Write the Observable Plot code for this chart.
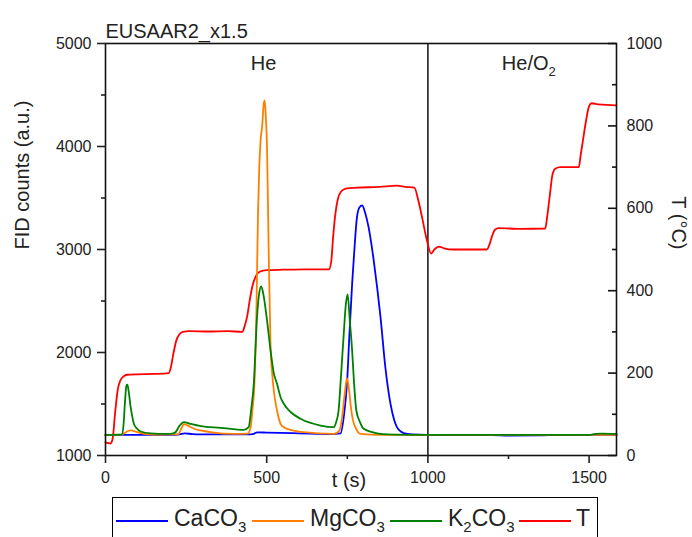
<!DOCTYPE html>
<html><head><meta charset="utf-8">
<script src="https://cdn.jsdelivr.net/npm/d3@7"></script>
<script src="https://cdn.jsdelivr.net/npm/@observablehq/plot@0.6"></script>
<style>
body{margin:0;background:#fff;font-family:"Liberation Sans",Arial,sans-serif;}
#wrap{position:relative;width:692px;height:537px;overflow:hidden;background:#fff;}
#legend{position:absolute;left:112px;top:497px;width:486px;height:60px;border:1.5px solid #000;box-sizing:border-box;font-size:23px;color:#222;}
#legend .ln{position:absolute;top:22px;height:2px;}
#legend .lb{position:absolute;top:7px;line-height:26px;white-space:nowrap;}
#legend sub{font-size:15px;vertical-align:-6px;line-height:0;}
</style>
</head><body>
<div id="wrap"><div id="chart"></div><div id="legend"></div></div>
<script>
// ---- data ----
const title = "EUSAAR2_x1.5";
const xTicks = [0, 500, 1000, 1500];
const xMinor = [250, 750, 1250];
const yTicks = [1000, 2000, 3000, 4000, 5000];
const yMinor = [1500, 2500, 3500, 4500];
const tempTicks = [0, 200, 400, 600, 800, 1000];
const tempMinor = [100, 300, 500, 700, 900];
const gasLabels = ["He", "He/O2"];
const gasLabelT = [490, 1313];
const switchT = [1000];

// Temperature T (°C)
const tT = [0, 8, 15, 22, 30, 38, 46, 56, 67, 100, 150, 196, 203, 210, 220, 230, 240, 260, 320, 380, 424, 432, 440, 448, 456, 466, 478, 500, 550, 620, 693, 700, 706, 712, 720, 730, 745, 780, 850, 904, 930, 958, 970, 982, 997, 1010, 1020, 1034, 1050, 1080, 1183, 1190, 1198, 1208, 1220, 1287, 1364, 1370, 1378, 1386, 1395, 1410, 1468, 1474, 1480, 1490, 1500, 1508, 1530, 1585];
const vT = [32, 30, 29, 40, 105, 160, 182, 192, 196, 197, 198, 200, 215, 245, 280, 295, 300, 302, 301, 302, 300, 315, 340, 380, 412, 435, 446, 450, 451, 452, 452, 470, 530, 580, 620, 640, 648, 650, 652, 655, 652, 650, 620, 578, 522, 490, 500, 507, 503, 500, 500, 510, 530, 548, 552, 550, 551, 580, 630, 680, 696, 700, 700, 730, 760, 810, 848, 855, 852, 850];

// CaCO3 FID counts
const tCa = [0, 200, 230, 245, 270, 300, 440, 460, 470, 500, 600, 700, 729, 740, 749, 757, 765, 772, 780, 788, 796, 806, 816, 832, 843, 853, 868, 884, 895, 904, 915, 925, 950, 1000, 1200, 1250, 1350, 1400, 1585];
const vCa = [1200, 1200, 1205, 1215, 1208, 1205, 1205, 1210, 1225, 1222, 1215, 1208, 1215, 1400, 1696, 2200, 2667, 3000, 3314, 3410, 3427, 3350, 3217, 2893, 2620, 2343, 1857, 1502, 1350, 1275, 1235, 1217, 1205, 1200, 1198, 1193, 1195, 1200, 1200];

// MgCO3 FID counts
const tMg = [0, 50, 60, 70, 80, 95, 120, 150, 225, 235, 243, 255, 275, 295, 330, 398, 440, 450, 456, 462, 466, 468, 473, 477, 481, 486, 491, 494, 497, 501, 506, 512, 517, 522, 532, 543, 553, 580, 615, 708, 725, 734, 742, 749, 755, 760, 767, 775, 791, 850, 1585];
const vMg = [1200, 1202, 1220, 1238, 1243, 1230, 1210, 1203, 1205, 1260, 1305, 1290, 1260, 1243, 1225, 1210, 1212, 1270, 1450, 1700, 2100, 2376, 3346, 3800, 4058, 4200, 4420, 4447, 4300, 3993, 3022, 2051, 1800, 1631, 1437, 1308, 1275, 1245, 1227, 1210, 1240, 1372, 1600, 1751, 1650, 1502, 1350, 1275, 1210, 1200, 1200];

// K2CO3 FID counts
const tK = [0, 50, 56, 60, 65, 68, 72, 78, 83, 88, 98, 109, 140, 191, 210, 217, 230, 243, 260, 295, 357, 429, 444, 452, 460, 470, 476, 483, 490, 501, 512, 522, 532, 543, 553, 575, 605, 667, 708, 716, 723, 731, 739, 745, 751, 758, 765, 771, 778, 790, 801, 830, 853, 900, 1000, 1500, 1520, 1540, 1585];
const vK = [1200, 1202, 1300, 1500, 1680, 1689, 1620, 1469, 1380, 1308, 1260, 1233, 1215, 1210, 1215, 1226, 1290, 1324, 1310, 1285, 1269, 1249, 1275, 1450, 1696, 2343, 2560, 2641, 2560, 2311, 2019, 1800, 1696, 1566, 1502, 1420, 1356, 1291, 1275, 1330, 1437, 1800, 2181, 2450, 2563, 2300, 2019, 1700, 1437, 1320, 1259, 1225, 1210, 1203, 1200, 1200, 1210, 1213, 1210];

const seriesNames = ["CaCO3", "MgCO3", "K2CO3", "T"];
const seriesColors = ["#0000ff", "#ff8000", "#008000", "#ff0000"];
const seriesLegend = ["CaCO<sub>3</sub>", "MgCO<sub>3</sub>", "K<sub>2</sub>CO<sub>3</sub>", "T"];

// ---- build tables ----
const toRows = (ts, vs) => ts.map((t, i) => ({t, v: vs[i]}));
const rowsCa = toRows(tCa, vCa);
const rowsMg = toRows(tMg, vMg);
const rowsK = toRows(tK, vK);
const rowsT = toRows(tT, vT);
const tempToFid = (T) => 1000 + 4 * T; // right axis 0..1000 maps onto left 1000..5000

const font = '"Liberation Sans", Arial, sans-serif';
const lw = 1.8;

const chart = Plot.plot({
  width: 692, height: 497,
  marginLeft: 105, marginRight: 76, marginTop: 43, marginBottom: 42,
  style: {fontFamily: font, fontSize: "16px", color: "#222", background: "#fff"},
  x: {domain: [0, 1585]},
  y: {domain: [1000, 5000]},
  marks: [
    Plot.ruleX(switchT, {x: d => d, stroke: "#111", strokeWidth: 1.5}),
    Plot.line(rowsT, {x: "t", y: d => tempToFid(d.v), stroke: seriesColors[3], strokeWidth: lw, curve: "monotone-x"}),
    Plot.line(rowsCa, {x: "t", y: "v", stroke: seriesColors[0], strokeWidth: lw, curve: "monotone-x"}),
    Plot.line(rowsMg, {x: "t", y: "v", stroke: seriesColors[1], strokeWidth: lw, curve: "monotone-x"}),
    Plot.line(rowsK, {x: "t", y: "v", stroke: seriesColors[2], strokeWidth: lw, curve: "monotone-x"}),
    Plot.frame({stroke: "#111", strokeWidth: 1.6}),
    Plot.axisY(yTicks, {tickSize: 8, tickPadding: 6, label: null, strokeWidth: 1.6, tickFormat: d => String(d)}),
    Plot.axisY(yMinor, {tickSize: 4, label: null, strokeWidth: 1.6, tickFormat: () => ""}),
    Plot.axisX(xTicks, {tickSize: 8, tickPadding: 8, label: null, strokeWidth: 1.6, tickFormat: d => String(d)}),
    Plot.axisX(xMinor, {tickSize: 4, label: null, strokeWidth: 1.6, tickFormat: () => ""}),
    Plot.axisY(tempTicks.map(tempToFid), {anchor: "right", tickSize: 0, tickPadding: 10, label: null, tickFormat: d => String((d - 1000) / 4)}),
    Plot.tickY(tempTicks, {y: d => tempToFid(d), insetLeft: 503, stroke: "#111", strokeWidth: 1.6}),
    Plot.tickY(tempMinor, {y: d => tempToFid(d), insetLeft: 507, stroke: "#111", strokeWidth: 1.6}),
    Plot.text([title], {frameAnchor: "top-left", dy: -20, textAnchor: "start", fontSize: 20, fill: "#222"}),
    Plot.text(gasLabels, {x: (d, i) => gasLabelT[i], frameAnchor: "top", dy: 12, fontSize: 20, fill: "#222"}),
    Plot.text(["FID counts (a.u.)"], {frameAnchor: "left", dx: -83, rotate: -90, fontSize: 20, fill: "#222"}),
    Plot.text(["T (°C)"], {frameAnchor: "right", dx: 62, rotate: 90, fontSize: 20, fill: "#222"}),
    Plot.text(["t (s)"], {frameAnchor: "bottom", dx: -12, dy: 31, fontSize: 20, fill: "#222"})
  ]
});
document.getElementById("chart").appendChild(chart);

// subscript in "He/O2"
d3.select(chart).selectAll("text").each(function() {
  if (this.textContent === "He/O2") {
    this.innerHTML = 'He/O<tspan font-size="13" dy="6">2</tspan>';
  }
});

// legend (positions in px relative to the legend box)
const legLine = [3, 139, 277, 406];
const legText = [61, 197, 335, 463];
const legend = d3.select("#legend");
seriesNames.forEach((name, i) => {
  legend.append("span").attr("class", "ln").style("background", seriesColors[i]).style("left", legLine[i] + "px").style("width", "52px");
  legend.append("span").attr("class", "lb").style("left", legText[i] + "px").html(seriesLegend[i]);
});
</script>
</body></html>
